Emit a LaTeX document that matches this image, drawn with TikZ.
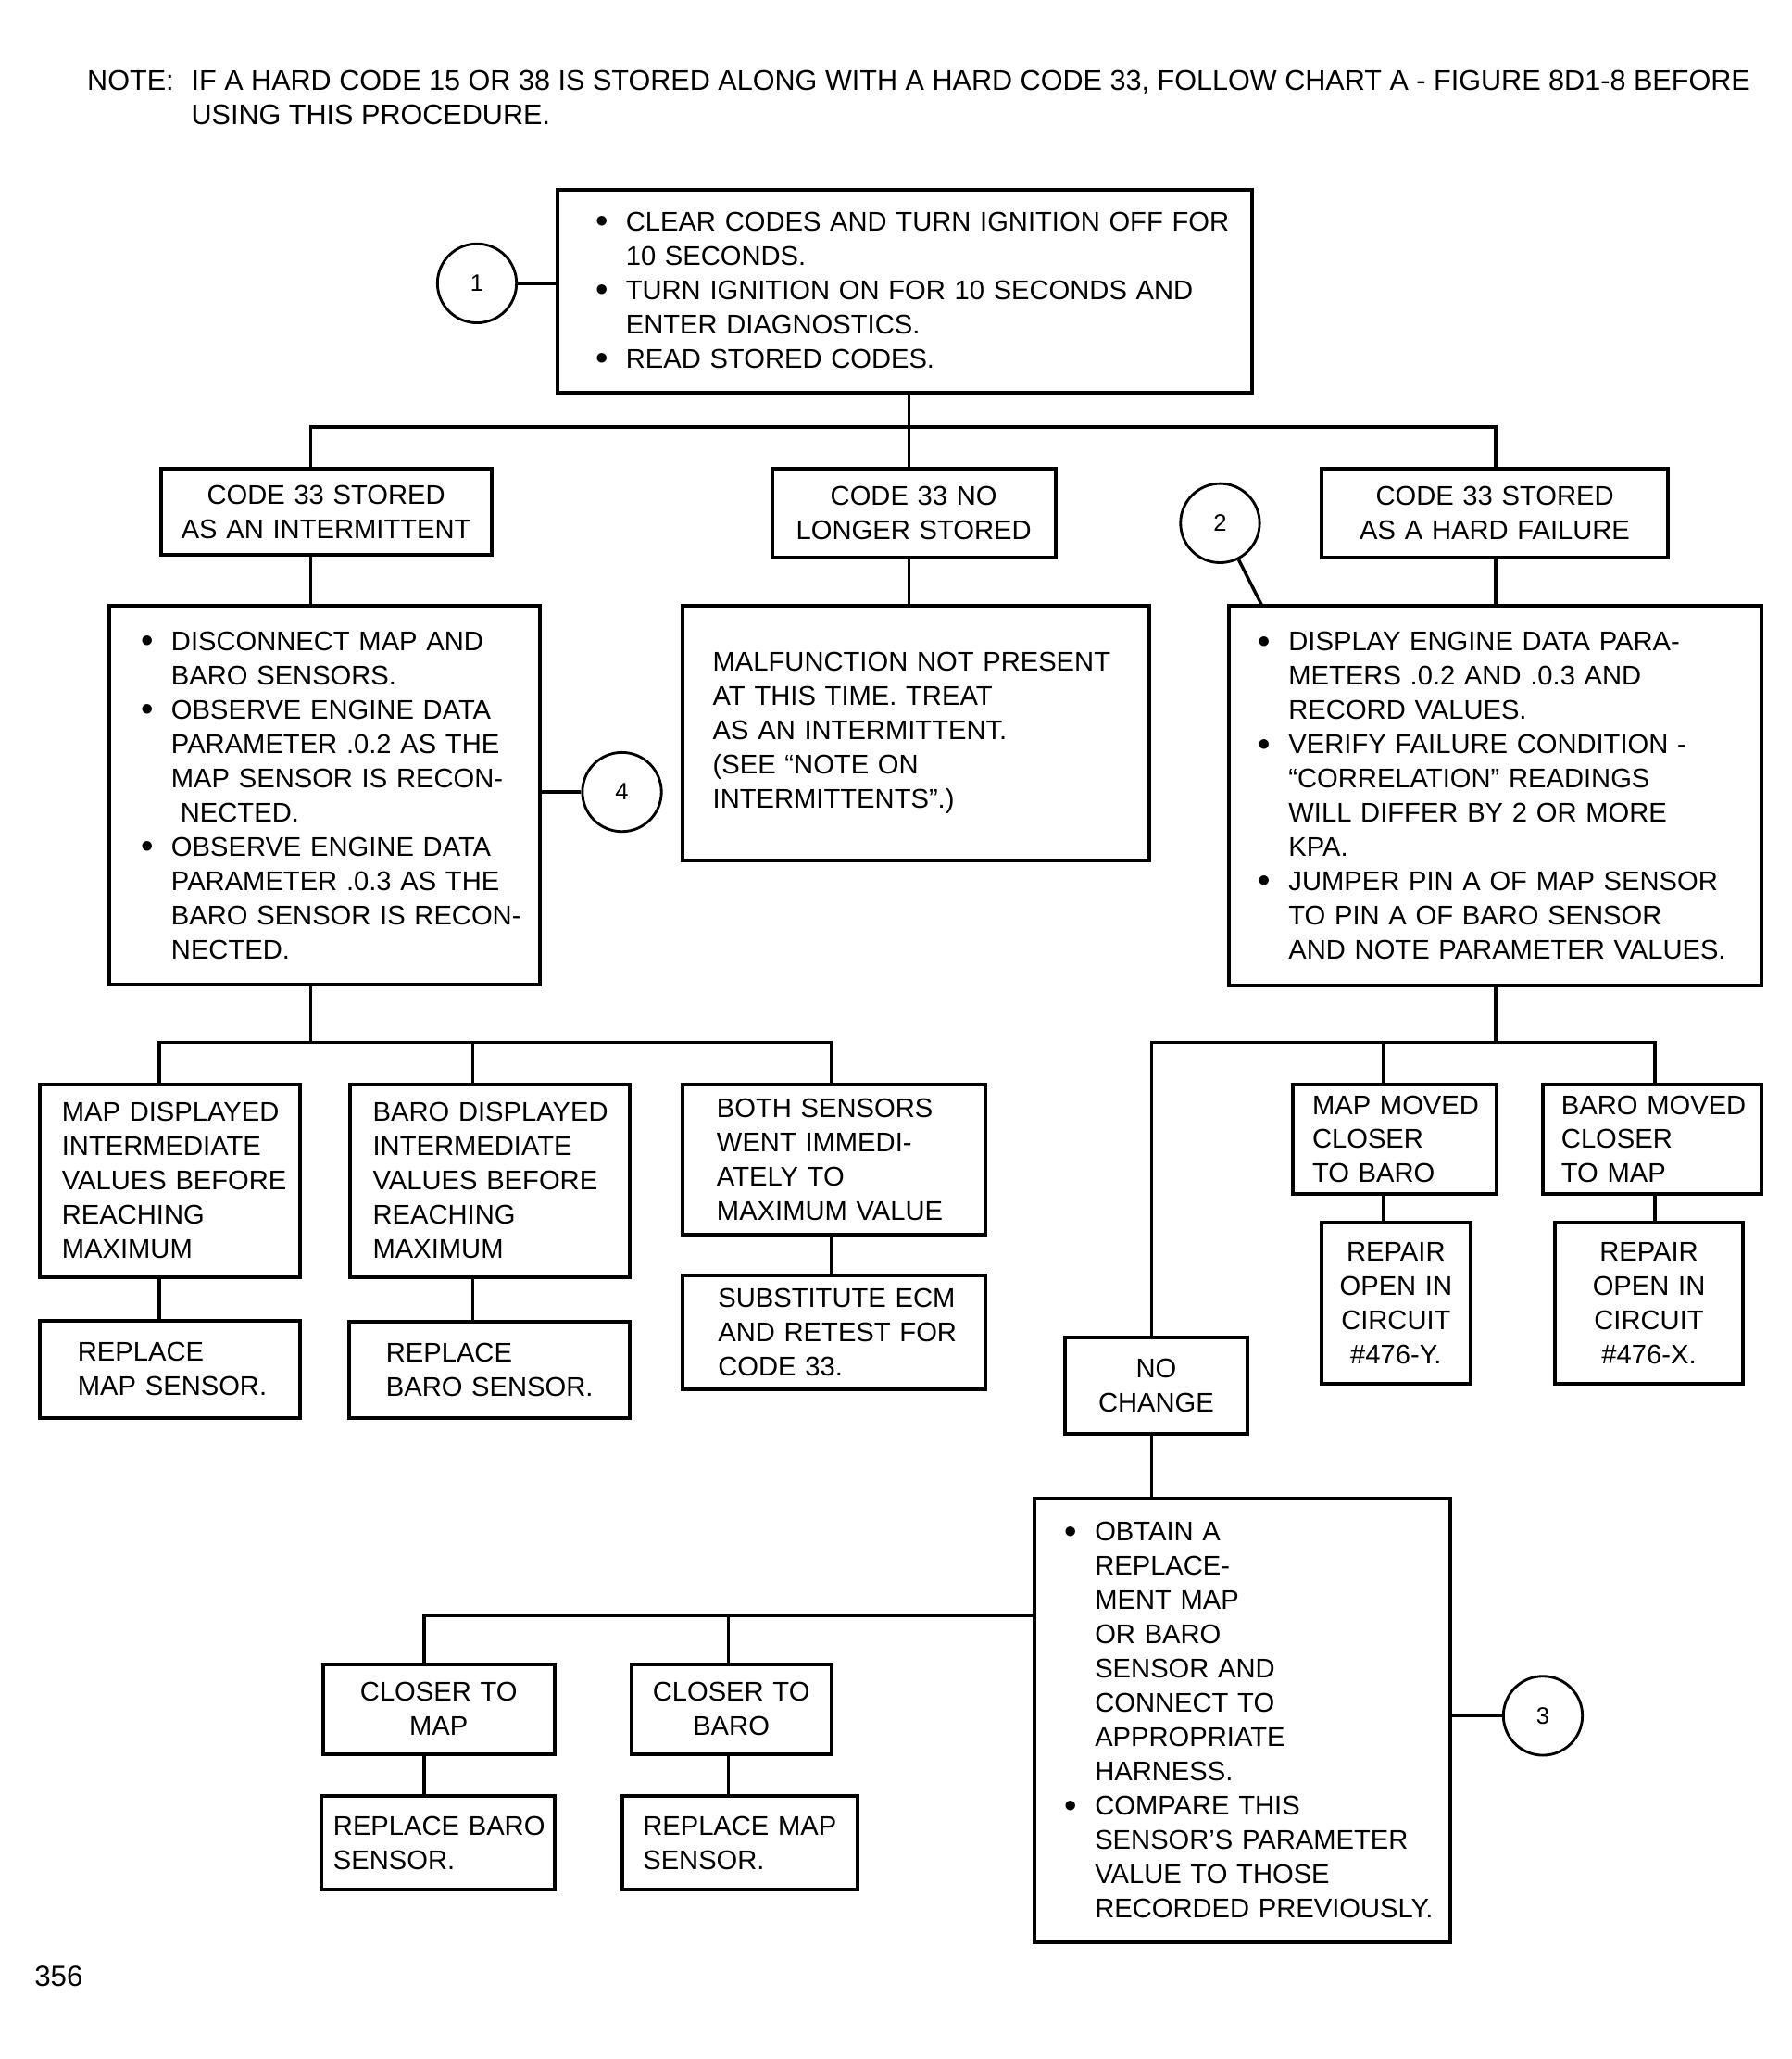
\documentclass[tikz,border=0pt]{standalone}
\usepackage{fontspec}
\setmainfont{Liberation Sans}
\usetikzlibrary{positioning}

\newcommand{\chartfont}{\fontsize{20.5}{26}\selectfont}
\newcommand{\bl}{\makebox[23pt][l]{\raisebox{-1.5pt}{\fontsize{27}{27}\selectfont\textbullet}}}
\newcommand{\cl}{\hspace*{23pt}}

\tikzset{
  box/.style={draw, line width=2.8pt, inner sep=0pt, outer sep=0pt, anchor=north west, align=left, font=\chartfont},
  lpad/.style={execute at begin node={\leftskip=#1\relax}},
  circ/.style={draw, circle, line width=2pt, minimum size=60pt, inner sep=0pt, font=\fontsize{18}{20}\selectfont},
  wire/.style={line width=2.4pt}
}

\begin{document}
\begin{tikzpicture}[x=1pt, y=-1pt]
\useasboundingbox (0,0) rectangle (1360,1562.5);

\node[anchor=north west, align=left, inner sep=0pt, font=\fontsize{21.5}{26}\selectfont] (note) at (66,53)
  {\makebox[79pt][l]{NOTE:}IF A HARD CODE 15 OR 38 IS STORED ALONG WITH A HARD CODE 33, FOLLOW CHART A - FIGURE 8D1-8 BEFORE\\
   \hspace*{79pt}USING THIS PROCEDURE.};

% first step
\node[box, text width=527pt, minimum height=154pt, lpad=29pt] (clear) at (423,144)
  {\bl CLEAR CODES AND TURN IGNITION OFF FOR\\
   \cl 10 SECONDS.\\
   \bl TURN IGNITION ON FOR 10 SECONDS AND\\
   \cl ENTER DIAGNOSTICS.\\
   \bl READ STORED CODES.};
\node[circ] (c1) at (362,215) {1};

% code 33 results
\node[box, align=center, text width=251pt, minimum height=65pt] (codeA) at (122,356) {CODE 33 STORED\\AS AN INTERMITTENT};
\node[box, align=center, text width=215pt, minimum height=67pt] (codeB) at (586,356) {CODE 33 NO\\LONGER STORED};
\node[box, align=center, text width=263pt, minimum height=67pt] (codeC) at (1003,356) {CODE 33 STORED\\AS A HARD FAILURE};
\node[circ] (c2) at (926,397) {2};

\node[box, text width=327pt, minimum height=287pt, lpad=24pt] (stepD) at (83,460)
  {\bl DISCONNECT MAP AND\\
   \cl BARO SENSORS.\\
   \bl OBSERVE ENGINE DATA\\
   \cl PARAMETER .0.2 AS THE\\
   \cl MAP SENSOR IS RECON-\\
   \cl\hspace*{7pt}NECTED.\\
   \bl OBSERVE ENGINE DATA\\
   \cl PARAMETER .0.3 AS THE\\
   \cl BARO SENSOR IS RECON-\\
   \cl NECTED.};
\node[circ] (c4) at (472,601) {4};

\node[box, text width=354pt, minimum height=193pt, lpad=23pt] (infoE) at (518,460)
  {MALFUNCTION NOT PRESENT\\
   AT THIS TIME. TREAT\\
   AS AN INTERMITTENT.\\
   (SEE ``NOTE ON\\
   INTERMITTENTS''.)};

\node[box, text width=404pt, minimum height=288pt, lpad=22pt] (stepF) at (933,460)
  {\bl DISPLAY ENGINE DATA PARA-\\
   \cl METERS .0.2 AND .0.3 AND\\
   \cl RECORD VALUES.\\
   \bl VERIFY FAILURE CONDITION -\\
   \cl ``CORRELATION'' READINGS\\
   \cl WILL DIFFER BY 2 OR MORE\\
   \cl KPA.\\
   \bl JUMPER PIN A OF MAP SENSOR\\
   \cl TO PIN A OF BARO SENSOR\\
   \cl AND NOTE PARAMETER VALUES.};

% intermittent branch
\node[box, text width=198pt, minimum height=146pt, lpad=17pt] (mapG) at (30,823)
  {MAP DISPLAYED\\INTERMEDIATE\\VALUES BEFORE\\REACHING\\MAXIMUM};
\node[box, text width=212pt, minimum height=146pt, lpad=17pt] (baroH) at (266,823)
  {BARO DISPLAYED\\INTERMEDIATE\\VALUES BEFORE\\REACHING\\MAXIMUM};
\node[box, text width=230pt, minimum height=114pt, lpad=26pt] (bothI) at (518,823)
  {BOTH SENSORS\\WENT IMMEDI-\\ATELY TO\\MAXIMUM VALUE};
\node[box, text width=198pt, minimum height=74pt, lpad=29pt] (replJ) at (30,1002)
  {REPLACE\\MAP SENSOR.};
\node[box, text width=213pt, minimum height=73pt, lpad=28pt] (replK) at (265,1003)
  {REPLACE\\BARO SENSOR.};
\node[box, text width=230pt, minimum height=86pt, lpad=27pt] (ecmL) at (518,968)
  {SUBSTITUTE ECM\\AND RETEST FOR\\CODE 33.};

% hard failure branch
\node[box, text width=155pt, minimum height=83pt, lpad=15pt] (mapM) at (981,823)
  {MAP MOVED\\CLOSER\\TO BARO};
\node[box, text width=166pt, minimum height=83pt, lpad=14pt] (baroN) at (1171,823)
  {BARO MOVED\\CLOSER\\TO MAP};
\node[box, align=center, text width=113pt, minimum height=122pt] (repO) at (1003,928)
  {REPAIR\\OPEN IN\\CIRCUIT\\\#476-Y.};
\node[box, align=center, text width=143pt, minimum height=122pt] (repP) at (1180,928)
  {REPAIR\\OPEN IN\\CIRCUIT\\\#476-X.};
\node[box, align=center, text width=139pt, minimum height=73pt] (noQ) at (808,1015)
  {NO\\CHANGE};

\node[box, text width=316pt, minimum height=337pt, lpad=23pt] (stepR) at (785,1137)
  {\bl OBTAIN A\\
   \cl REPLACE-\\
   \cl MENT MAP\\
   \cl OR BARO\\
   \cl SENSOR AND\\
   \cl CONNECT TO\\
   \cl APPROPRIATE\\
   \cl HARNESS.\\
   \bl COMPARE THIS\\
   \cl SENSOR'S PARAMETER\\
   \cl VALUE TO THOSE\\
   \cl RECORDED PREVIOUSLY.};
\node[circ] (c3) at (1171,1302) {3};

\node[box, align=center, text width=176pt, minimum height=68pt] (closS) at (245,1263)
  {CLOSER TO\\MAP};
\node[box, align=center, text width=152pt, minimum height=68pt] (closT) at (479,1263)
  {CLOSER TO\\BARO};
\node[box, text width=177pt, minimum height=71pt, lpad=9pt] (replU) at (244,1363)
  {REPLACE BARO\\SENSOR.};
\node[box, text width=179pt, minimum height=71pt, lpad=16pt] (replV) at (472,1363)
  {REPLACE MAP\\SENSOR.};

\node[anchor=north west, inner sep=0pt, font=\fontsize{22}{24}\selectfont] (page) at (26,1492) {356};

% junctions
\coordinate (j0) at (690,324);
\coordinate (jA) at (236,324);
\coordinate (jC) at (1135,324);
\coordinate (jD) at (236,791);
\coordinate (jG) at (121,791);
\coordinate (jH) at (359,791);
\coordinate (jI) at (631,791);
\coordinate (jF) at (1135,791);
\coordinate (jQ) at (874,791);
\coordinate (jM) at (1050,791);
\coordinate (jN) at (1256,791);
\coordinate (jS) at (322,1226);
\coordinate (jT) at (553,1226);

% connectors
\draw[wire] (c1) -- (c1 -| clear.west);
\draw[wire] (j0 |- clear.south) -- (j0 |- codeB.north);
\draw[wire] (jA |- codeA.north) -- (jA) -- (jC) -- (jC |- codeC.north);
\draw[wire] (jA |- codeA.south) -- (jA |- stepD.north);
\draw[wire] (j0 |- codeB.south) -- (j0 |- infoE.north);
\draw[wire] (jC |- codeC.south) -- (jC |- stepF.north);
\draw[wire] (c2) -- ([xshift=25pt]stepF.north west);
\draw[wire] (c4) -- (c4 -| stepD.east);

\draw[wire] (jD |- stepD.south) -- (jD);
\draw[wire] (jG |- mapG.north) -- (jG) -- (jI) -- (jI |- bothI.north);
\draw[wire] (jH) -- (jH |- baroH.north);
\draw[wire] (jG |- mapG.south) -- (jG |- replJ.north);
\draw[wire] (jH |- baroH.south) -- (jH |- replK.north);
\draw[wire] (jI |- bothI.south) -- (jI |- ecmL.north);

\draw[wire] (jF |- stepF.south) -- (jF);
\draw[wire] (jQ |- noQ.north) -- (jQ) -- (jN) -- (jN |- baroN.north);
\draw[wire] (jM) -- (jM |- mapM.north);
\draw[wire] (jM |- mapM.south) -- (jM |- repO.north);
\draw[wire] (jN |- baroN.south) -- (jN |- repP.north);
\draw[wire] (jQ |- noQ.south) -- (jQ |- stepR.north);
\draw[wire] (c3) -- (c3 -| stepR.east);

\draw[wire] (jS |- closS.north) -- (jS) -- (jS -| stepR.west);
\draw[wire] (jT) -- (jT |- closT.north);
\draw[wire] (jS |- closS.south) -- (jS |- replU.north);
\draw[wire] (jT |- closT.south) -- (jT |- replV.north);
\end{tikzpicture}
\end{document}
